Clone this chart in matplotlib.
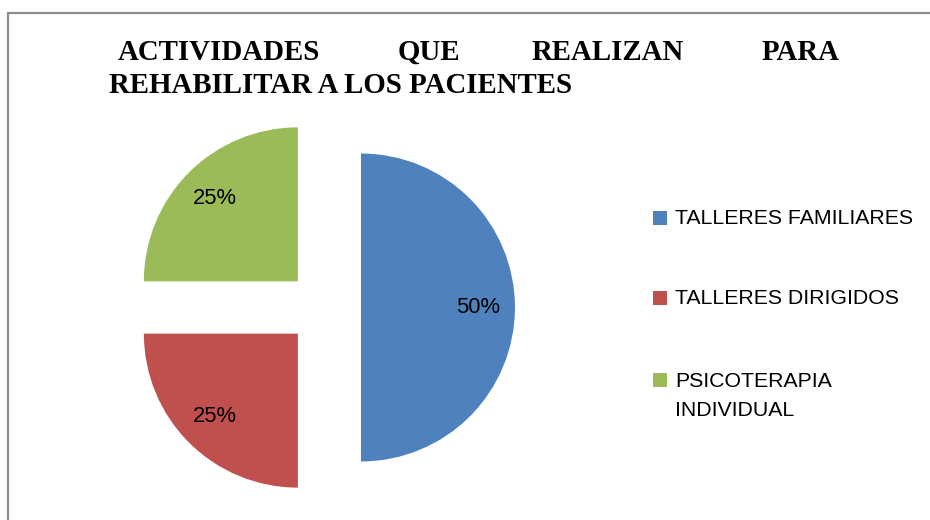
import matplotlib
matplotlib.use("Agg")
import matplotlib.pyplot as plt
from matplotlib.patches import Rectangle

# ---- data ----
categories = ["TALLERES FAMILIARES", "TALLERES DIRIGIDOS", "PSICOTERAPIA\nINDIVIDUAL"]
values = [50, 25, 25]
colors = ["#4F81BD", "#C0504D", "#9BBB59"]
title_line1 = ["ACTIVIDADES", "QUE", "REALIZAN", "PARA"]
title_line2 = "REHABILITAR A LOS PACIENTES"

W, H = 930, 520
fig = plt.figure(figsize=(W / 100, H / 100), dpi=100)
fig.patch.set_facecolor("white")

# pie geometry in pixels
cx, cy, R = 324.0, 307.5, 154.0
ax = fig.add_axes([0, 0, 1, 1])
wedges, texts, autotexts = ax.pie(
    values, colors=colors, startangle=90, counterclock=False,
    explode=[0.24] * len(values), autopct='%1.0f%%', pctdistance=0.76,
    radius=1.0, center=(0, 0),
    wedgeprops=dict(linewidth=0),
    textprops=dict(fontsize=15.8, family="Liberation Sans", color="black"))
ax.set_aspect("auto")
ax.set_xlim(-cx / R, (W - cx) / R)
ax.set_ylim(-(H - cy) / R, cy / R)
ax.axis("off")

# figure border (chart area)
fig.add_artist(Rectangle((7.5 / W, -0.05), 1.2, 1 - 12.5 / H + 0.05,
                         transform=fig.transFigure, fill=False,
                         edgecolor="#8c8c8c", linewidth=1.6))

# title (justified first line)
tfont = dict(family="Liberation Serif", fontweight="bold", fontsize=20.8, color="black")
line1_x = [118, 398, 532, 840]
base1 = 1 - 60 / H
for i, (word, x) in enumerate(zip(title_line1, line1_x)):
    ha = "right" if i == len(title_line1) - 1 else "left"
    fig.text(x / W, base1, word, ha=ha, va="baseline", **tfont)
fig.text(109 / W, 1 - 93 / H, title_line2, ha="left", va="baseline", **tfont)

# legend (manual, Excel style)
leg_y = [218, 298, 380]
for lab, col, y in zip(categories, colors, leg_y):
    fig.add_artist(Rectangle((653 / W, 1 - (y + 7) / H), 14 / W, 14 / H,
                             transform=fig.transFigure, facecolor=col,
                             edgecolor="none"))
    if "\n" in lab:
        fig.text(675 / W, 1 - (y - 8) / H, lab, ha="left", va="top",
                 family="Liberation Sans", fontsize=15.3, color="black",
                 linespacing=1.68)
    else:
        fig.text(675 / W, 1 - y / H, lab, ha="left", va="center",
                 family="Liberation Sans", fontsize=15.3, color="black")

fig.savefig("out.png", dpi=100, facecolor="white")
